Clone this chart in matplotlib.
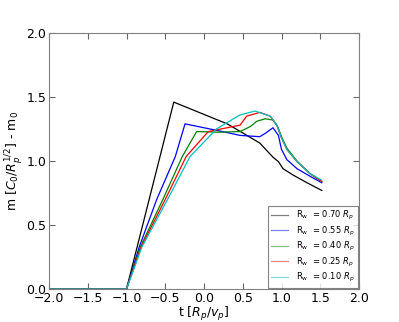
import matplotlib
matplotlib.use("Agg")
import matplotlib.pyplot as plt

# R_w = 0.70 ... 0.10 R_p, t in units of R_p/v_p
t_070 = [-2.0, -1.0, -0.39, 0.3, 0.47, 0.72, 0.89, 0.96, 1.02, 1.15, 1.33, 1.52]
m_070 = [0.0, 0.0, 1.46, 1.29, 1.23, 1.14, 1.03, 0.995, 0.94, 0.89, 0.83, 0.77]

t_055 = [-2.0, -1.0, -0.835, -0.61, -0.37, -0.245, 0.2, 0.465, 0.72, 0.8, 0.89,
         0.96, 1.0, 1.07, 1.2, 1.37, 1.52]
m_055 = [0.0, 0.0, 0.33, 0.70, 1.035, 1.29, 1.235, 1.20, 1.19, 1.22, 1.26,
         1.20, 1.09, 1.01, 0.94, 0.88, 0.83]

t_040 = [-2.0, -1.0, -0.82, -0.53, -0.28, -0.095, 0.2, 0.465, 0.6, 0.68, 0.79,
         0.89, 0.95, 1.0, 1.07, 1.2, 1.37, 1.52]
m_040 = [0.0, 0.0, 0.33, 0.70, 1.035, 1.23, 1.225, 1.23, 1.27, 1.31, 1.33,
         1.32, 1.27, 1.19, 1.10, 1.0, 0.90, 0.84]

t_025 = [-2.0, -1.0, -0.81, -0.5, -0.23, 0.055, 0.3, 0.465, 0.55, 0.72, 0.855,
         0.94, 1.0, 1.07, 1.2, 1.37, 1.52]
m_025 = [0.0, 0.0, 0.33, 0.70, 1.035, 1.23, 1.26, 1.28, 1.35, 1.38, 1.35,
         1.28, 1.18, 1.09, 0.995, 0.90, 0.84]

t_010 = [-2.0, -1.0, -0.8, -0.47, -0.18, 0.16, 0.465, 0.66, 0.855, 0.94, 1.0,
         1.07, 1.2, 1.37, 1.52]
m_010 = [0.0, 0.0, 0.33, 0.70, 1.035, 1.25, 1.36, 1.39, 1.35, 1.28, 1.18,
         1.09, 0.995, 0.90, 0.85]

series = [
    (t_070, m_070, "k", "0.70"),
    (t_055, m_055, "b", "0.55"),
    (t_040, m_040, "g", "0.40"),
    (t_025, m_025, "r", "0.25"),
    (t_010, m_010, "c", "0.10"),
]

fig = plt.figure(figsize=(3.99, 3.22), dpi=100)
ax = fig.add_axes([49 / 399, 1 - 289 / 322, 310 / 399, 256 / 322])
for t, m, c, lab in series:
    ax.plot(t, m, color=c, lw=0.9, label=r"R$_{\rm w}$  = %s $R_p$" % lab)

ax.set_xlim(-2, 2)
ax.set_ylim(0, 2)
ax.set_xticks([-2.0, -1.5, -1.0, -0.5, 0.0, 0.5, 1.0, 1.5, 2.0])
ax.set_yticks([0.0, 0.5, 1.0, 1.5, 2.0])
ax.tick_params(direction="in", top=True, right=True, labelsize=9, length=4,
               color="0.4", pad=2)
for s in ax.spines.values():
    s.set_color("0.5")
ax.set_xlabel(r"t [$R_p/v_p$]", fontsize=9, labelpad=0)
ax.set_ylabel(r"m [$C_0/R_p^{1/2}$] - m$_0$", fontsize=9, labelpad=1)

leg = ax.legend(loc="lower right", fontsize=6, frameon=True, fancybox=False,
                borderaxespad=0.15, handlelength=2.0, handletextpad=1.0,
                labelspacing=0.3)
leg.get_frame().set_edgecolor("0.4")
leg.get_frame().set_linewidth(0.8)
for h in leg.get_lines():
    h.set_alpha(0.5)

fig.savefig("out.png", dpi=100)
